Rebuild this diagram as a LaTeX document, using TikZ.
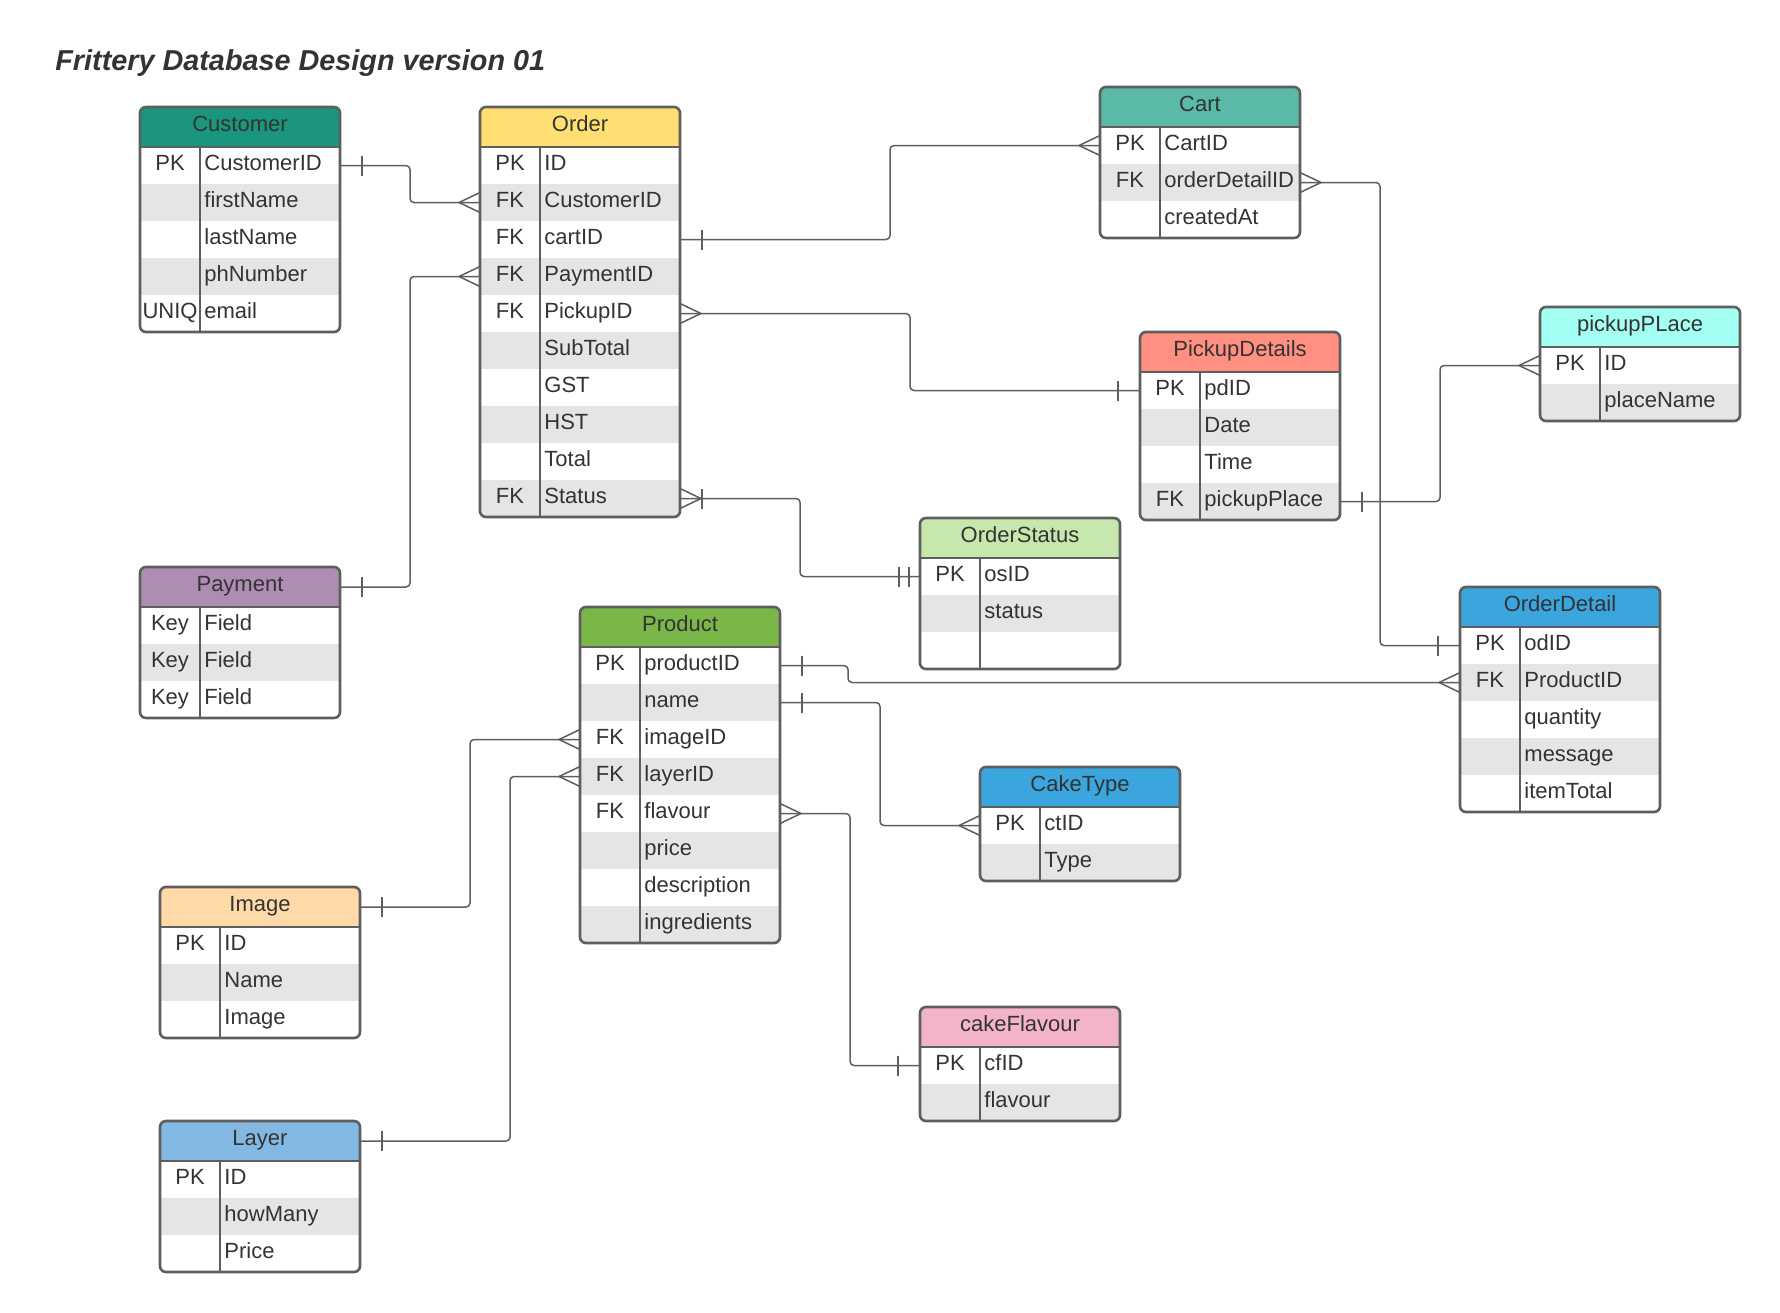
\documentclass[tikz,border=0pt]{standalone}
\usepackage{fontspec}
\setmainfont{Liberation Sans}
\usepackage{xcolor}
\usepackage{tikz}

\definecolor{linegray}{HTML}{5E5E5E}
\definecolor{inkgray}{HTML}{333333}
\definecolor{rowgray}{HTML}{E5E5E5}
\definecolor{custcol}{HTML}{19967D}
\definecolor{ordercol}{HTML}{FFDF71}
\definecolor{cartcol}{HTML}{5ABAA7}
\definecolor{pickcol}{HTML}{FF8F80}
\definecolor{placecol}{HTML}{A3FFF2}
\definecolor{statuscol}{HTML}{C7E8AC}
\definecolor{detailcol}{HTML}{3AA6DD}
\definecolor{paycol}{HTML}{AE8DB3}
\definecolor{prodcol}{HTML}{7AB648}
\definecolor{typecol}{HTML}{3AA6DD}
\definecolor{imagecol}{HTML}{FFDAA8}
\definecolor{layercol}{HTML}{83B8E3}
\definecolor{flavcol}{HTML}{F4B4C8}

\tikzset{
    tabline/.style={draw=linegray, line width=1.3pt},
    conn/.style={draw=linegray, line width=0.75pt, rounded corners=2pt},
    headtext/.style={font=\fontsize{11}{13}\selectfont, text=inkgray, anchor=base, inner sep=0pt},
    keytext/.style={font=\fontsize{11}{13}\selectfont, text=inkgray, anchor=base, inner sep=0pt},
    fieldtext/.style={font=\fontsize{11}{13}\selectfont, text=inkgray, anchor=base west, inner sep=0pt},
    titletext/.style={font=\fontsize{14.4}{17}\selectfont\bfseries\itshape, text=inkgray, anchor=base west, inner sep=0pt},
    % end marks, box edge at the origin, line coming in from the left
    crowfoot/.pic={\draw[conn] (-21,0) -- (0,-10) (-21,0) -- (0,10);},
    onebar/.pic={\draw[conn] (-22,-10) -- (-22,10);},
    twobar/.pic={\draw[conn] (-21,-10) -- (-21,10) (-11,-10) -- (-11,10);},
}

% #1 name, #2 x, #3 y, #4 header colour, #5 title, #6 number of rows, #7 key/field list
\newcommand{\ertable}[7]{%
    \begin{scope}
        \clip[rounded corners=3pt] (#2,#3) rectangle ++(200,40+37*#6);
        \fill[#4] (#2,#3) rectangle ++(200,40);
        \node[headtext] (#1) at (#2+100,#3+24.5) {#5};
        \coordinate (#1-0-w) at (#2,#3+20);
        \coordinate (#1-0-e) at (#2+200,#3+20);
        \foreach \k/\f [count=\i] in {#7} {
            \ifodd\i \def\rowfill{white}\else \def\rowfill{rowgray}\fi
            \fill[\rowfill] (#2,#3+3+37*\i) rectangle ++(200,37);
            \node[keytext] (#1-\i-k) at (#2+30,#3+26.5+37*\i) {\k};
            \node[fieldtext] (#1-\i-f) at (#2+64,#3+26.5+37*\i) {\f};
            \coordinate (#1-\i-w) at (#2,#3+21.5+37*\i);
            \coordinate (#1-\i-e) at (#2+200,#3+21.5+37*\i);
        }
    \end{scope}
    \draw[tabline] (#2,#3+40) -- ++(200,0);
    \draw[tabline] (#2+60,#3+40) -- ++(0,37*#6);
    \draw[tabline, rounded corners=3pt] (#2,#3) rectangle ++(200,40+37*#6);
}

\begin{document}
\begin{tikzpicture}[x=0.5pt, y=-0.5pt]
    \useasboundingbox (0,0) rectangle (1780,1312);

    \node[titletext] (title) at (55,70) {Frittery Database Design version 01};

    % Draw tables
    \ertable{cust}{140}{107}{custcol}{Customer}{5}{PK/CustomerID,/firstName,/lastName,/phNumber,UNIQ/email}
    \ertable{order}{480}{107}{ordercol}{Order}{10}{PK/ID,FK/CustomerID,FK/cartID,FK/PaymentID,FK/PickupID,/SubTotal,/GST,/HST,/Total,FK/Status}
    \ertable{cart}{1100}{87}{cartcol}{Cart}{3}{PK/CartID,FK/orderDetailID,/createdAt}
    \ertable{pick}{1140}{332}{pickcol}{PickupDetails}{4}{PK/pdID,/Date,/Time,FK/pickupPlace}
    \ertable{place}{1540}{307}{placecol}{pickupPLace}{2}{PK/ID,/placeName}
    \ertable{ostat}{920}{518}{statuscol}{OrderStatus}{3}{PK/osID,/status,/}
    \ertable{odet}{1460}{587}{detailcol}{OrderDetail}{5}{PK/odID,FK/ProductID,/quantity,/message,/itemTotal}
    \ertable{pay}{140}{567}{paycol}{Payment}{3}{Key/Field,Key/Field,Key/Field}
    \ertable{prod}{580}{607}{prodcol}{Product}{8}{PK/productID,/name,FK/imageID,FK/layerID,FK/flavour,/price,/description,/ingredients}
    \ertable{ctype}{980}{767}{typecol}{CakeType}{2}{PK/ctID,/Type}
    \ertable{img}{160}{887}{imagecol}{Image}{3}{PK/ID,/Name,/Image}
    \ertable{layer}{160}{1121}{layercol}{Layer}{3}{PK/ID,/howMany,/Price}
    \ertable{cflav}{920}{1007}{flavcol}{cakeFlavour}{2}{PK/cfID,/flavour}

    % Draw relations
    \draw[conn] (cust-1-e) -- ++(70,0) |- (order-2-w);
    \pic[xscale=-1] at (cust-1-e) {onebar};
    \pic at (order-2-w) {crowfoot};

    \draw[conn] (pay-0-e) -- ++(70,0) |- (order-4-w);
    \pic[xscale=-1] at (pay-0-e) {onebar};
    \pic at (order-4-w) {crowfoot};

    \draw[conn] (order-3-e) -- ++(210,0) |- (cart-1-w);
    \pic[xscale=-1] at (order-3-e) {onebar};
    \pic at (cart-1-w) {crowfoot};

    \draw[conn] (order-5-e) -- ++(230,0) |- (pick-1-w);
    \pic[xscale=-1] at (order-5-e) {crowfoot};
    \pic at (pick-1-w) {onebar};

    \draw[conn] (order-10-e) -- ++(120,0) |- (ostat-1-w);
    \pic[xscale=-1] at (order-10-e) {crowfoot};
    \pic[xscale=-1] at (order-10-e) {onebar};
    \pic at (ostat-1-w) {twobar};

    \draw[conn] (cart-2-e) -- ++(80,0) |- (odet-1-w);
    \pic[xscale=-1] at (cart-2-e) {crowfoot};
    \pic at (odet-1-w) {onebar};

    \draw[conn] (pick-4-e) -- ++(100,0) |- (place-1-w);
    \pic[xscale=-1] at (pick-4-e) {onebar};
    \pic at (place-1-w) {crowfoot};

    \draw[conn] (prod-1-e) -- ++(68,0) |- (odet-2-w);
    \pic[xscale=-1] at (prod-1-e) {onebar};
    \pic at (odet-2-w) {crowfoot};

    \draw[conn] (prod-2-e) -- ++(100,0) |- (ctype-1-w);
    \pic[xscale=-1] at (prod-2-e) {onebar};
    \pic at (ctype-1-w) {crowfoot};

    \draw[conn] (prod-5-e) -- ++(70,0) |- (cflav-1-w);
    \pic[xscale=-1] at (prod-5-e) {crowfoot};
    \pic at (cflav-1-w) {onebar};

    \draw[conn] (img-0-e) -- ++(110,0) |- (prod-3-w);
    \pic[xscale=-1] at (img-0-e) {onebar};
    \pic at (prod-3-w) {crowfoot};

    \draw[conn] (layer-0-e) -- ++(150,0) |- (prod-4-w);
    \pic[xscale=-1] at (layer-0-e) {onebar};
    \pic at (prod-4-w) {crowfoot};
\end{tikzpicture}
\end{document}
